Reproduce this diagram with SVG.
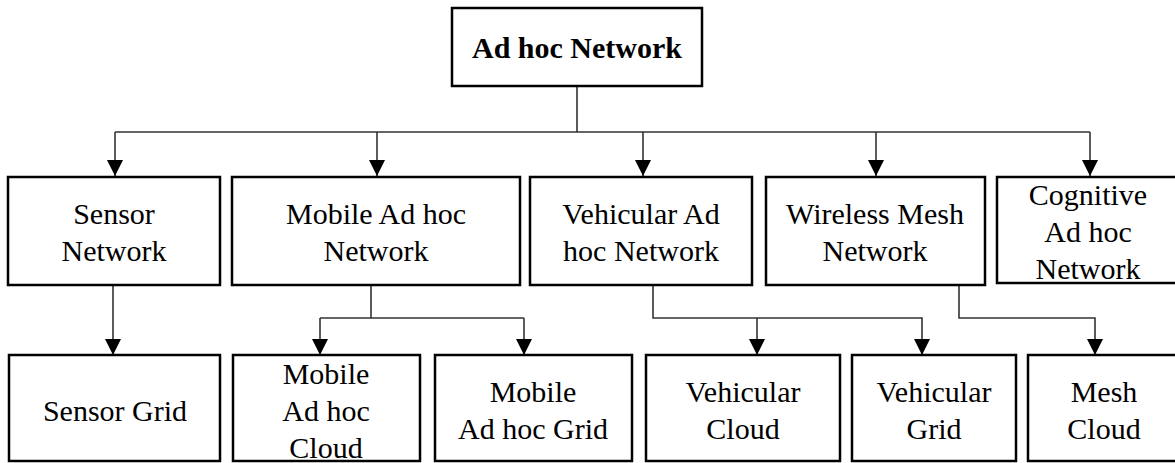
<svg xmlns="http://www.w3.org/2000/svg" width="1175" height="463" viewBox="0 0 1175 463">
<style>
.box{fill:#fff;stroke:#000;stroke-width:2.5}
.t{font-family:"Liberation Serif","Times New Roman",serif;font-size:30px;fill:#000;text-anchor:middle}
.b{font-weight:bold}
.c{fill:none;stroke:#333;stroke-width:1.6}
</style>
<defs>
<marker id="ah" markerUnits="userSpaceOnUse" markerWidth="16" markerHeight="16" refX="16" refY="8" orient="auto">
<path d="M0,0 L16,8 L0,16 z" fill="#000"/>
</marker>
</defs>
<rect width="1175" height="463" fill="#fff"/>
<g id="connectors">
<path class="c" d="M577,86 V132 M115,132 H1090"/>
<path class="c" d="M115,132 V176" marker-end="url(#ah)"/>
<path class="c" d="M377,132 V176" marker-end="url(#ah)"/>
<path class="c" d="M643,132 V176" marker-end="url(#ah)"/>
<path class="c" d="M876,132 V176" marker-end="url(#ah)"/>
<path class="c" d="M1090,132 V176" marker-end="url(#ah)"/>
<path class="c" d="M113,285 V355" marker-end="url(#ah)"/>
<path class="c" d="M371,285 V318 M320,318 H524"/>
<path class="c" d="M320,318 V355" marker-end="url(#ah)"/>
<path class="c" d="M524,318 V355" marker-end="url(#ah)"/>
<path class="c" d="M653,285 V318 H922 V355" marker-end="url(#ah)"/>
<path class="c" d="M757,318 V355" marker-end="url(#ah)"/>
<path class="c" d="M959,285 V318 H1095 V355" marker-end="url(#ah)"/>
</g>
<g id="adhoc">
<rect class="box" x="452" y="8" width="250" height="78"/>
<text class="t b" x="577" y="58">Ad hoc Network</text>
</g>
<g id="sensor">
<rect class="box" x="8" y="177" width="212" height="108"/>
<text class="t" x="114" y="224">Sensor</text>
<text class="t" x="114" y="261">Network</text>
</g>
<g id="manet">
<rect class="box" x="232" y="177" width="288" height="108"/>
<text class="t" x="376" y="224">Mobile Ad hoc</text>
<text class="t" x="376" y="261">Network</text>
</g>
<g id="vanet">
<rect class="box" x="530" y="177" width="222" height="108"/>
<text class="t" x="641" y="224">Vehicular Ad</text>
<text class="t" x="641" y="261">hoc Network</text>
</g>
<g id="wmn">
<rect class="box" x="766" y="177" width="219" height="108"/>
<text class="t" x="875" y="224">Wireless Mesh</text>
<text class="t" x="875" y="261">Network</text>
</g>
<g id="cognitive">
<rect class="box" x="997" y="177" width="190" height="106"/>
<text class="t" x="1088" y="205">Cognitive</text>
<text class="t" x="1088" y="242">Ad hoc</text>
<text class="t" x="1088" y="279">Network</text>
</g>
<g id="sensorgrid">
<rect class="box" x="9" y="355" width="211" height="106"/>
<text class="t" x="115" y="421">Sensor Grid</text>
</g>
<g id="mobilecloud">
<rect class="box" x="233" y="355" width="187" height="106"/>
<text class="t" x="326" y="384">Mobile</text>
<text class="t" x="326" y="421">Ad hoc</text>
<text class="t" x="326" y="458">Cloud</text>
</g>
<g id="mobilegrid">
<rect class="box" x="435" y="355" width="197" height="106"/>
<text class="t" x="533" y="402">Mobile</text>
<text class="t" x="533" y="439">Ad hoc Grid</text>
</g>
<g id="vehcloud">
<rect class="box" x="646" y="355" width="194" height="106"/>
<text class="t" x="743" y="402">Vehicular</text>
<text class="t" x="743" y="439">Cloud</text>
</g>
<g id="vehgrid">
<rect class="box" x="852" y="355" width="164" height="106"/>
<text class="t" x="934" y="402">Vehicular</text>
<text class="t" x="934" y="439">Grid</text>
</g>
<g id="meshcloud">
<rect class="box" x="1028" y="355" width="160" height="106"/>
<text class="t" x="1104" y="402">Mesh</text>
<text class="t" x="1104" y="439">Cloud</text>
</g>
</svg>
